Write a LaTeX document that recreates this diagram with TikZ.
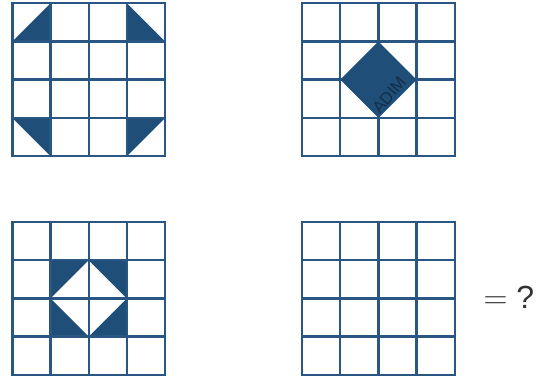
\documentclass[tikz,border=0pt]{standalone}
\usepackage{fontspec}
\setmainfont{Liberation Sans}
\definecolor{tileblue}{RGB}{31,78,121}
\definecolor{lineblue}{RGB}{42,86,132}
\tikzset{
  cellline/.style={draw=lineblue,line width=1.8pt,line cap=rect},
  tilefill/.style={fill=tileblue},
  board/.style={x=28.65pt,y=-28.65pt}
}
\begin{document}
\begin{tikzpicture}[x=.75pt,y=-.75pt]
\useasboundingbox (0,0) rectangle (539,378);
% corner triangles
\begin{scope}[shift={(12.3,3.3)},board]
\fill[tilefill] (0,1)--(1,0)--(1,1)--cycle;
\fill[tilefill] (3,0)--(3,1)--(4,1)--cycle;
\fill[tilefill] (0,3)--(1,3)--(1,4)--cycle;
\fill[tilefill] (3,3)--(4,3)--(3,4)--cycle;
\foreach \i in {0,...,4} {\draw[cellline] (\i,0)--(\i,4); \draw[cellline] (0,\i)--(4,\i);}
\end{scope}
% diamond
\begin{scope}[shift={(302,3.3)},board]
\foreach \i in {0,...,4} {\draw[cellline] (\i,0)--(\i,4); \draw[cellline] (0,\i)--(4,\i);}
\fill[tilefill] (2,1)--(3,2)--(2,3)--(1,2)--cycle;
\node[rotate=50,text=black,opacity=.4,inner sep=0pt,font=\fontsize{12.5}{13}\selectfont] (mark) at (2.28,2.4) {ADIM};
\end{scope}
% square with hole
\begin{scope}[shift={(12.3,222)},board]
\fill[tilefill,even odd rule] (1,1) rectangle (3,3) (2,1)--(3,2)--(2,3)--(1,2)--cycle;
\foreach \i in {0,...,4} {\draw[cellline] (\i,0)--(\i,4); \draw[cellline] (0,\i)--(4,\i);}
\end{scope}
% empty board
\begin{scope}[shift={(302,222)},board]
\foreach \i in {0,...,4} {\draw[cellline] (\i,0)--(\i,4); \draw[cellline] (0,\i)--(4,\i);}
\end{scope}
\node[font=\fontsize{24}{28}\selectfont,text=black!80,inner sep=0pt] (ask) at (509,297) {$=$ ?};
\end{tikzpicture}
\end{document}
